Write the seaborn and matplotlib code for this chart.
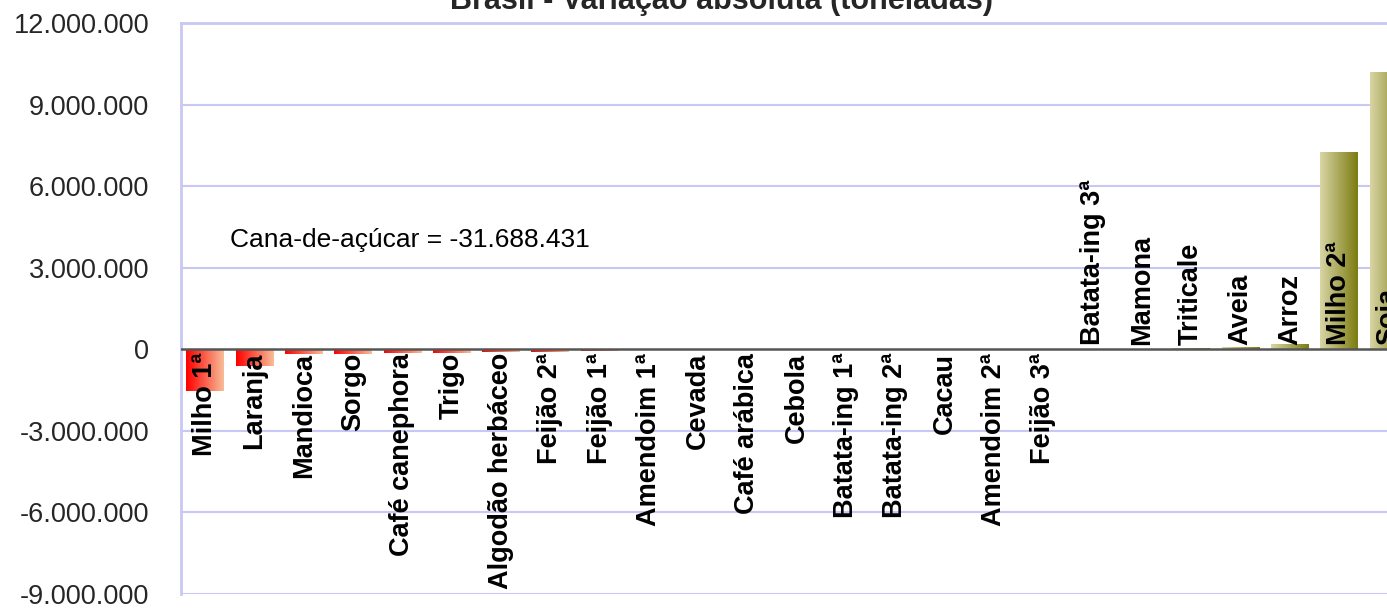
import numpy as np
import pandas as pd

import matplotlib
matplotlib.use("Agg")
import matplotlib.pyplot as plt
import matplotlib.colors as mcolors
import seaborn as sns

# ======================================================
# DATA (tonnes)
# ======================================================

crops = [
    "Milho 1ª", "Laranja", "Mandioca", "Sorgo", "Café canephora", "Trigo",
    "Algodão herbáceo", "Feijão 2ª", "Feijão 1ª", "Amendoim 1ª", "Cevada",
    "Café arábica", "Cebola", "Batata-ing 1ª", "Batata-ing 2ª", "Cacau",
    "Amendoim 2ª", "Feijão 3ª", "Batata-ing 3ª", "Mamona", "Triticale",
    "Aveia", "Arroz", "Milho 2ª", "Soja",
]

variation = [
    -1550000, -630000, -180000, -170000, -150000, -130000,
    -120000, -100000, -70000, -40000, -30000,
    -30000, -30000, -20000, -15000, -10000,
    -6000, -3000, 2000, 20000, 30000,
    80000, 170000, 7250000, 10200000,
]

yticks = [-9000000, -6000000, -3000000, 0, 3000000, 6000000, 9000000, 12000000]

title = "Brasil - Variação absoluta (toneladas)"
note = "Cana-de-açúcar = -31.688.431"

# ======================================================
# CONFIGURATION
# ======================================================

sns.set_theme(style="white")
plt.rcParams["font.family"] = ["Liberation Sans", "DejaVu Sans"]

GRID = "#c8c8f6"
NEG_CMAP = mcolors.LinearSegmentedColormap.from_list("neg", ["#ff0000", "#f8bc98"])
POS_CMAP = mcolors.LinearSegmentedColormap.from_list("pos", ["#d8d5a4", "#7c7c12"])

df = pd.DataFrame({"crop": crops, "value": variation})

fig = plt.figure(figsize=(13.87, 6.10), dpi=100)
ax = fig.add_axes([0.1305, 0.027, 0.8695, 0.935])

sns.barplot(data=df, x="crop", y="value", color="#cccccc", width=0.76, ax=ax)

# gradient fill for each bar
gradient = np.linspace(0, 1, 64).reshape(1, -1)
for patch, value in zip(ax.patches, df["value"]):
    x0, y0 = patch.get_x(), patch.get_y()
    w, h = patch.get_width(), patch.get_height()
    cmap = NEG_CMAP if value < 0 else POS_CMAP
    img = ax.imshow(
        gradient,
        cmap=cmap,
        aspect="auto",
        extent=[x0, x0 + w, min(y0, y0 + h), max(y0, y0 + h)],
        zorder=2,
    )
    img.set_clip_path(patch)
    patch.set_facecolor("none")
    patch.set_edgecolor("none")

# category labels on the bars
for i, (name, value) in enumerate(zip(crops, variation)):
    if value < 0:
        ax.text(i, -130000, name, rotation=90, ha="center", va="top",
                fontsize=19.5, fontweight="bold", color="black", zorder=4)
    else:
        ax.text(i, 150000, name, rotation=90, ha="center", va="bottom",
                fontsize=19.5, fontweight="bold", color="black", zorder=4)

ax.text(0.51, 4000000, note, ha="left", va="center", fontsize=19, color="black")

ax.set_xlim(-0.487, 23.97)
ax.set_ylim(-9000000, 12000000)
ax.set_yticks(yticks)
ax.set_yticklabels([f"{v:,}".replace(",", ".") for v in yticks], fontsize=19.5)
ax.tick_params(axis="y", length=0, pad=23)
ax.set_xticks([])
ax.set_xlabel("")
ax.set_ylabel("")

for y in yticks:
    if y != 0:
        ax.axhline(y, color=GRID, linewidth=1.5, zorder=1)
ax.axhline(0, color="#555555", linewidth=1.8, zorder=3)

for side in ["top", "left"]:
    ax.spines[side].set_color(GRID)
    ax.spines[side].set_linewidth(2)
for side in ["right", "bottom"]:
    ax.spines[side].set_visible(False)

fig.text(0.52, 0.985, title, ha="center", va="baseline",
         fontsize=22, fontweight="bold")

fig.savefig("out.png", dpi=100)
